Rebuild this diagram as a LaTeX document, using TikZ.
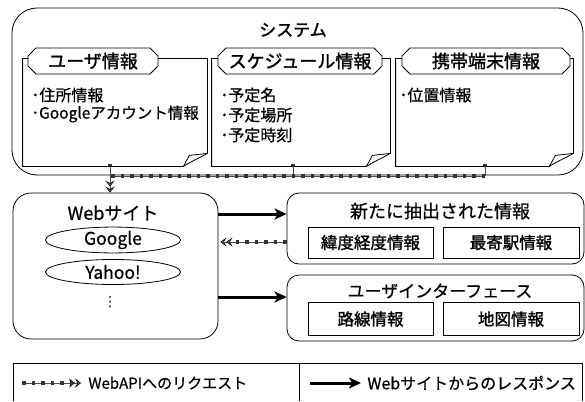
\documentclass[tikz,border=0pt]{standalone}
\usepackage{fontspec}
\setmainfont{Noto Sans CJK JP}[AutoFakeBold=1.5]
\newfontfamily\medfont{Noto Sans CJK JP}[FakeBold=0.6]
\newfontfamily\symfont{DejaVu Sans}
\usetikzlibrary{arrows.meta,shapes.misc,shapes.geometric}
\newcommand\notepath[1]{%
  \draw[fill=white] (#1.north west) -- (#1.north east) -- ([yshift=13pt]#1.south east)
    .. controls ([xshift=-9pt,yshift=8pt]#1.south east) and ([xshift=-18pt,yshift=4pt]#1.south east) .. ([xshift=-24pt]#1.south east)
    -- (#1.south west) -- cycle;
  \draw ([xshift=-24pt]#1.south east) -- ([xshift=-18pt,yshift=11pt]#1.south east) -- ([yshift=13pt]#1.south east);}
\begin{document}
\begin{tikzpicture}[x=1pt,y=-1pt,line width=0.8pt,
  box/.style={draw, inner sep=0pt},
  notebody/.style={inner sep=0pt},
  tabbox/.style={draw, fill=white, chamfered rectangle, chamfered rectangle xsep=4pt, chamfered rectangle ysep=4pt, minimum height=26pt, inner sep=0pt, font=\fontsize{18}{18}\selectfont\bfseries},
  bodytxt/.style={anchor=west, inner sep=0pt, font=\fontsize{16}{16}\selectfont\medfont},
  inbox/.style={draw, inner sep=0pt, font=\fontsize{16.5}{16.5}\selectfont\bfseries},
  oval/.style={draw, ellipse, inner sep=0pt, minimum width=135pt, minimum height=25pt, font=\fontsize{17.5}{17.5}\selectfont\medfont},
  req/.style={line width=0.5pt, draw=black!70,
     -{Stealth[length=6pt,width=9pt,inset=2.5pt,color=black,fill=black!60]Stealth[length=6pt,width=9pt,inset=2.5pt,color=black,fill=black!60]},
     postaction={draw=black!80, line width=4pt, dash pattern=on 3.5pt off 6pt, arrows=-, shorten >=12pt}},
  resp/.style={line width=3pt, -{Stealth[length=12pt,width=11pt,inset=3pt]}}
]
\useasboundingbox (0,0) rectangle (585,401);

% system
\node[box, rounded corners=25pt, minimum width=571pt, minimum height=167pt] (sys) at (297.5,91.5) {};
\node[font=\fontsize{17}{17}\selectfont\bfseries] (systitle) at (293,30) {システム};

% notes
\node[notebody, minimum width=184pt, minimum height=107pt] (user) at (115,112.5) {};
\notepath{user}
\node[notebody, minimum width=178pt, minimum height=107pt] (sched) at (301,112.5) {};
\notepath{sched}
\node[notebody, minimum width=177pt, minimum height=107pt] (mob) at (484.5,112.5) {};
\notepath{mob}

\node[tabbox, minimum width=130pt] (usertab) at (93,61) {ユーザ情報};
\node[tabbox, minimum width=164pt] (schedtab) at (300,61) {スケジュール情報};
\node[tabbox, minimum width=168pt] (mobtab) at (486,61) {携帯端末情報};

\node[bodytxt] (u1) at (31,95) {･住所情報};
\node[bodytxt, font=\fontsize{15.5}{15.5}\selectfont\medfont] (u2) at (31,114) {･Googleアカウント情報};
\node[bodytxt] (s1) at (220,95) {･予定名};
\node[bodytxt] (s2) at (220,115) {･予定場所};
\node[bodytxt] (s3) at (220,135) {･予定時刻};
\node[bodytxt] (m1) at (399,95) {･位置情報};

% web site
\node[box, rounded corners=18pt, minimum width=205pt, minimum height=146pt] (web) at (115.5,266) {};
\node[font=\fontsize{18}{18}\selectfont\medfont] (webtitle) at (113,213) {Webサイト};
\node[oval] (google) at (113,240) {Google};
\node[oval] (yahoo) at (113,272) {Yahoo!};
\node[inner sep=0pt, font=\fontsize{14}{14}\selectfont\symfont] (dots) at (110,302) {⋮};

% extracted info
\node[box, rounded corners=12pt, minimum width=297pt, minimum height=71pt] (info) at (435.5,228.5) {};
\node[font=\fontsize{18}{18}\selectfont\medfont] (infotitle) at (440,211) {新たに抽出された情報};
\node[inbox, minimum width=125pt, minimum height=31pt] (lat) at (370.5,242.5) {緯度経度情報};
\node[inbox, minimum width=136pt, minimum height=31pt] (sta) at (511,242.5) {最寄駅情報};

% user interface
\node[box, rounded corners=12pt, minimum width=297pt, minimum height=66pt] (ui) at (435.5,308) {};
\node[font=\fontsize{17}{17}\selectfont\medfont] (uititle) at (440,291) {ユーザインターフェース};
\node[inbox, minimum width=125pt, minimum height=33pt] (route) at (370.5,319) {路線情報};
\node[inbox, minimum width=136pt, minimum height=33pt] (map) at (511,319) {地図情報};

% request connectors
\coordinate (j1) at (110,176);
\coordinate (j2) at (293,176);
\coordinate (j3) at (485,176);
\draw[req, arrows=-] (user.south -| j1) -- (j1);
\draw[req, arrows=-] (sched.south -| j2) -- (j2);
\draw[req, arrows=-] (mob.south -| j3) -- (j3);
\draw[req] (j3) -- (j1) -- (web.north -| j1);

\coordinate (a1) at (250,214);
\coordinate (a2) at (250,297);
\coordinate (a3) at (250,242);
\draw[resp] (web.east |- a1) -- (info.west |- a1);
\draw[resp] (web.east |- a2) -- (ui.west |- a2);
\draw[req, shorten >=2pt] (info.west |- a3) -- (web.east |- a3);

% legend
\draw (13,401) -- (13,363) -- (582,363) -- (582,401);
\draw (299,363) -- (299,401);
\coordinate (l1) at (22,383);
\coordinate (l2) at (310,383);
\node[anchor=west, inner sep=0pt, font=\fontsize{15}{15}\selectfont\medfont] (lt1) at (88,383) {WebAPIへのリクエスト};
\node[anchor=west, inner sep=0pt, font=\fontsize{16}{16}\selectfont\medfont] (lt2) at (367,383) {Webサイトからのレスポンス};
\draw[req, shorten >=7pt] (l1) -- (lt1.west);
\draw[resp, shorten >=6pt] (l2) -- (lt2.west);
\end{tikzpicture}
\end{document}
